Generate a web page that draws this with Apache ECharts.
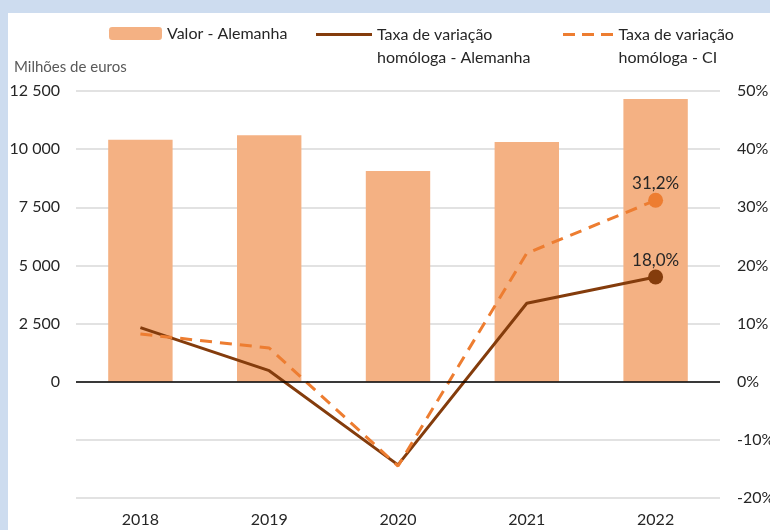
<!DOCTYPE html>
<html>
<head>
<meta charset="utf-8">
<script src="https://cdn.jsdelivr.net/npm/echarts@6/dist/echarts.min.js"></script>
<style>
html,body{margin:0;padding:0;background:#CDDCEF;overflow:hidden;width:770px;height:530px;}
#wrap{position:fixed;left:8px;top:13px;width:762px;height:517px;background:#fff;}
#chart{position:fixed;left:0;top:0;width:770px;height:530px;}
</style>
</head>
<body>
<div id="wrap"></div>
<div id="chart"></div>
<script>
const categories = ['2018', '2019', '2020', '2021', '2022'];
const valorAlemanha = [10400, 10600, 9060, 10310, 12160];
const taxaAlemanha = [9.3, 1.9, -14.3, 13.5, 18.0];
const taxaCI = [8.2, 5.8, -14.5, 22.1, 31.2];
const leftTicks = { min: -5000, max: 12500, interval: 2500 };
const rightTicks = { min: -20, max: 50, interval: 10 };

const FONT = 'Lato, "Liberation Sans", sans-serif';
const nameBar = 'Valor - Alemanha';
const nameA = 'Taxa de variação\nhomóloga - Alemanha';
const nameCI = 'Taxa de variação\nhomóloga - CI';

function pct(v) { return v.toFixed(1).replace('.', ',') + '%'; }
function thousands(v) { return String(v).replace(/\B(?=(\d{3})+(?!\d))/g, ' '); }

function lastLabeled(arr, color) {
  return arr.map((v, i) => i === arr.length - 1 ? {
    value: v, symbol: 'circle', symbolSize: 15,
    itemStyle: { color: color },
    label: { show: true, position: 'top', distance: 1, formatter: p => pct(p.value),
             color: '#262626', fontSize: 17, fontFamily: FONT }
  } : v);
}

const chart = echarts.init(document.getElementById('chart'), null, { renderer: 'canvas', width: 770, height: 530 });
const legendText = { fontSize: 16, color: '#262626', fontFamily: FONT, lineHeight: 23 };
const solidIcon = 'path://M0,0H56V3H0Z';
const dashIcon = 'path://M0,0H12V3H0Z M19,0H31V3H19Z M38,0H50V3H38Z';

chart.setOption({
  backgroundColor: 'transparent',
  animation: false,
  textStyle: { fontFamily: FONT },
  legend: [
    { data: [nameBar], left: 109, top: 22, padding: 0, itemWidth: 53, itemHeight: 13,
      textStyle: legendText, selectedMode: false },
    { data: [{ name: nameA, icon: solidIcon }], left: 316, top: 0, padding: 0, itemWidth: 56, itemHeight: 3,
      textStyle: legendText, selectedMode: false, formatter: n => '\n' + n },
    { data: [{ name: nameCI, icon: dashIcon }], left: 563, top: 0, padding: 0, itemWidth: 51, itemHeight: 3,
      textStyle: legendText, selectedMode: false, formatter: n => '\n' + n }
  ],
  graphic: [{
    type: 'text', left: 14, top: 60,
    style: { text: 'Milhões de euros', fill: '#595959', fontSize: 15, fontFamily: FONT }
  }],
  grid: { left: 76, right: 50, top: 91, bottom: 32, containLabel: false, outerBoundsMode: 'none' },
  xAxis: {
    type: 'category', data: categories,
    axisLine: { show: false }, axisTick: { show: false },
    axisLabel: { color: '#262626', fontSize: 16, margin: 14, fontFamily: FONT }
  },
  yAxis: [
    { type: 'value', min: leftTicks.min, max: leftTicks.max, interval: leftTicks.interval,
      axisLine: { show: false }, axisTick: { show: false },
      splitLine: { lineStyle: { color: '#D9D9D9', width: 1.5 } },
      axisLabel: { color: '#262626', fontSize: 16, margin: 16, fontFamily: FONT,
                   formatter: v => v < 0 ? '' : thousands(v) } },
    { type: 'value', min: rightTicks.min, max: rightTicks.max, interval: rightTicks.interval,
      axisLine: { show: false }, axisTick: { show: false }, splitLine: { show: false },
      axisLabel: { color: '#262626', fontSize: 16, margin: 17, fontFamily: FONT,
                   formatter: v => v + '%' } }
  ],
  series: [
    { name: nameBar, type: 'bar', data: valorAlemanha, barWidth: '50%',
      itemStyle: { color: '#F4B183' },
      markLine: { silent: true, symbol: 'none', label: { show: false },
                  lineStyle: { color: '#000', width: 1.5, type: 'solid' },
                  data: [{ yAxis: 0 }] } },
    { name: nameA, type: 'line', yAxisIndex: 1, data: lastLabeled(taxaAlemanha, '#843C0C'),
      symbol: 'none', color: '#843C0C', lineStyle: { color: '#843C0C', width: 3 }, z: 3 },
    { name: nameCI, type: 'line', yAxisIndex: 1, data: lastLabeled(taxaCI, '#ED7D31'),
      symbol: 'none', color: '#ED7D31', lineStyle: { color: '#ED7D31', width: 3, type: [12, 8] }, z: 4 }
  ]
});
</script>
</body>
</html>
